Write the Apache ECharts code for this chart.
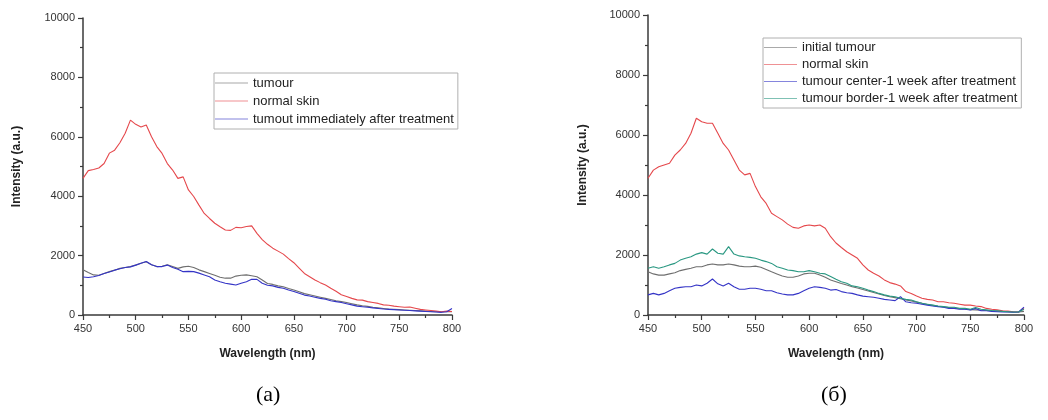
<!DOCTYPE html>
<html>
<head>
<meta charset="utf-8">
<script src="https://cdn.jsdelivr.net/npm/echarts@6/dist/echarts.min.js"></script>
<style>
  html, body { margin: 0; padding: 0; background: #fff; }
  #chart { width: 1048px; height: 420px; }
</style>
</head>
<body>
<div id="chart"></div>
<script>
// Wavelength grid shared by every spectrum (nm, 5 nm step)
const wavelengths = [];
for (let w = 450; w <= 800; w += 5) wavelengths.push(w);

// Panel (a)
const tumourA = [1520,1430,1350,1340,1400,1460,1510,1570,1600,1630,1680,1740,1790,1690,1630,1640,1690,1630,1570,1620,1640,1600,1520,1460,1400,1340,1270,1240,1240,1310,1340,1350,1320,1290,1180,1060,1030,980,950,890,840,780,720,680,640,600,560,520,480,450,420,380,340,310,290,260,240,220,200,190,180,170,160,150,140,130,120,110,100,120,110];
const skinA = [4600,4860,4900,4950,5100,5450,5550,5800,6120,6560,6420,6330,6400,6000,5670,5440,5100,4880,4600,4650,4210,3990,3700,3420,3250,3090,2970,2860,2850,2950,2940,2980,3000,2750,2540,2380,2250,2150,2050,1900,1760,1580,1400,1290,1180,1090,1010,900,800,680,620,560,510,500,450,420,390,340,330,300,280,260,270,230,190,170,150,130,110,130,120];
const treatedA = [1280,1260,1290,1330,1400,1450,1510,1560,1600,1620,1680,1740,1800,1690,1630,1630,1680,1600,1540,1460,1470,1460,1410,1350,1290,1180,1120,1070,1040,1010,1070,1120,1200,1200,1070,1000,980,930,900,840,790,730,670,640,600,560,530,480,450,420,380,340,300,280,260,240,220,200,190,180,170,160,150,140,130,120,110,100,90,110,220];

// Panel (б)
const tumourB = [1440,1370,1330,1330,1370,1410,1480,1520,1560,1610,1610,1670,1700,1670,1670,1700,1670,1630,1610,1610,1630,1590,1520,1440,1370,1300,1260,1260,1300,1370,1390,1390,1330,1260,1170,1110,1050,1000,940,900,850,800,750,700,650,610,580,540,500,470,430,390,350,320,290,270,250,230,210,200,180,170,160,150,140,130,120,110,100,100,120];
const skinB = [4560,4830,4940,5000,5060,5330,5500,5720,6060,6560,6440,6390,6390,6060,5720,5500,5170,4830,4670,4720,4280,3940,3720,3390,3280,3170,3030,2920,2890,2970,3000,2970,3000,2890,2610,2400,2250,2110,2000,1890,1670,1500,1390,1300,1170,1080,1030,970,780,720,630,560,520,500,440,440,410,390,360,330,330,300,280,220,190,170,140,130,110,100,220];
const centerB = [670,720,670,720,810,890,920,940,940,1000,970,1060,1200,1040,970,1060,940,860,860,890,890,860,810,810,740,700,670,670,720,810,890,940,920,890,830,850,780,740,720,670,630,610,590,560,520,500,480,610,440,410,390,360,330,300,280,260,220,220,190,190,170,220,140,140,120,110,100,100,90,100,260];
const borderB = [1560,1610,1560,1610,1670,1720,1830,1890,1940,2030,2080,2030,2200,2060,2030,2280,2030,1970,1940,1920,1890,1830,1780,1720,1610,1560,1500,1480,1440,1440,1480,1440,1390,1370,1280,1190,1110,1060,970,940,890,830,780,720,670,630,610,560,520,500,440,390,360,330,300,280,260,260,220,220,190,250,190,170,150,140,120,110,100,100,190];

// Axis ticks
const xTicks = { min: 450, max: 800, step: 50 };
const yTicks = { min: 0, max: 10000, step: 2000 };

const COLORS = {
  gray: '#6f6f6f',
  red: '#e5484c',
  blue: '#3434c6',
  teal: '#2a9882'
};

const pairs = vals => vals.map((v, i) => [wavelengths[i], v]);

const chart = echarts.init(document.getElementById('chart'));

const FONT = 'Liberation Sans, Arial, sans-serif';
const plain = v => String(v);

function axisCommon() {
  return {
    axisLine: { show: true, lineStyle: { color: '#3a3a3a', width: 1.5 } },
    axisTick: { show: true, inside: false, length: 5, lineStyle: { color: '#3a3a3a', width: 1.2 } },
    minorTick: { show: true, splitNumber: 2, length: 3, lineStyle: { color: '#3a3a3a', width: 1.2 } },
    axisLabel: { margin: 8, fontFamily: FONT, fontSize: 11, color: '#333', formatter: plain,
                 showMinLabel: true, showMaxLabel: true },
    splitLine: { show: false },
    nameTextStyle: { fontFamily: FONT, fontWeight: 'bold', fontSize: 12, color: '#222' }
  };
}

function xAxisFor(gridIndex) {
  return Object.assign(axisCommon(), {
    type: 'value', gridIndex,
    min: xTicks.min, max: xTicks.max, interval: xTicks.step,
    name: 'Wavelength (nm)', nameLocation: 'middle', nameGap: 33
  });
}

function yAxisFor(gridIndex, nameGap) {
  return Object.assign(axisCommon(), {
    type: 'value', gridIndex,
    min: yTicks.min, max: yTicks.max, interval: yTicks.step,
    name: 'Intensity (a.u.)', nameLocation: 'middle', nameGap
  });
}

function spectrum(name, vals, color, idx) {
  return {
    type: 'line', name, data: pairs(vals),
    xAxisIndex: idx, yAxisIndex: idx,
    showSymbol: false, symbol: 'none', smooth: false,
    lineStyle: { color, width: 1.1 },
    itemStyle: { color },
    animation: false
  };
}

const legendBase = {
  orient: 'vertical', selectedMode: false,
  icon: 'rect', itemWidth: 33, itemHeight: 1, itemGap: 0,
  borderColor: '#b0b0b0', borderWidth: 1,
  itemStyle: { opacity: 0.6 },
  textStyle: { fontFamily: FONT, fontSize: 13, color: '#222' }
};

chart.setOption({
  backgroundColor: '#fff',
  animation: false,
  grid: [
    { left: 83, top: 18, width: 369, height: 297 },
    { left: 648, top: 15, width: 376, height: 300 }
  ],
  xAxis: [xAxisFor(0), xAxisFor(1)],
  yAxis: [yAxisFor(0, 60), yAxisFor(1, 59)],
  legend: [
    Object.assign({}, legendBase, {
      left: 214, top: 73, padding: [1, 4, 1, 1],
      textStyle: Object.assign({}, legendBase.textStyle, { lineHeight: 18 }),
      data: ['tumour', 'normal skin', 'tumout immediately after treatment']
    }),
    Object.assign({}, legendBase, {
      left: 763, top: 38, padding: [1, 4, 1, 1],
      textStyle: Object.assign({}, legendBase.textStyle, { lineHeight: 17 }),
      data: ['initial tumour', 'normal skin ', 'tumour center-1 week after treatment', 'tumour border-1 week after treatment']
    })
  ],
  series: [
    spectrum('tumour', tumourA, COLORS.gray, 0),
    spectrum('normal skin', skinA, COLORS.red, 0),
    spectrum('tumout immediately after treatment', treatedA, COLORS.blue, 0),
    spectrum('initial tumour', tumourB, COLORS.gray, 1),
    spectrum('normal skin ', skinB, COLORS.red, 1),
    spectrum('tumour center-1 week after treatment', centerB, COLORS.blue, 1),
    spectrum('tumour border-1 week after treatment', borderB, COLORS.teal, 1)
  ],
  graphic: [
    { type: 'text', left: 256, top: 384,
      style: { text: '(a)', font: '22px "Liberation Serif", "Times New Roman", serif', fill: '#000' } },
    { type: 'text', left: 821, top: 384,
      style: { text: '(б)', font: '22px "Liberation Serif", "Times New Roman", serif', fill: '#000' } }
  ]
});
</script>
</body>
</html>
